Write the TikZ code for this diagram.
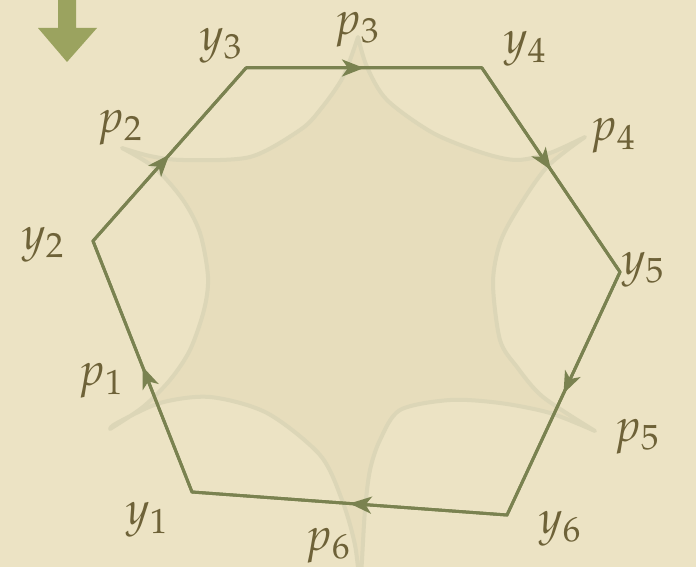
\documentclass[tikz,border=0pt]{standalone}
\usepackage{mathpazo}
\usepackage{tikz}
\usetikzlibrary{arrows.meta, decorations.markings}
\definecolor{parch}{HTML}{ECE3C4}
\definecolor{parchdark}{HTML}{E7DDBC}
\definecolor{ghost}{HTML}{DCD6B7}
\definecolor{olive}{HTML}{7A8250}
\definecolor{olivelight}{HTML}{9BA35F}
\definecolor{inkbrown}{HTML}{6E6238}

\begin{document}
\begin{tikzpicture}[
    x=0.5pt, y=-0.5pt,
    lab/.style={text=inkbrown, font=\fontsize{23}{26}\selectfont, inner sep=0pt},
    side/.style={draw=olive, line width=1.5pt, line join=miter},
    midarrow/.style={side, postaction={decorate},
        decoration={markings, mark=at position 0.5 with {\arrow{Stealth[length=11pt, width=8.5pt, inset=3pt]}}}},
    geo/.style={draw=ghost, fill=parchdark, line width=2pt, line join=round},
    bigarrow/.style={fill=olivelight}
  ]
  \fill[parch] (0,0) rectangle (696,567);
  \useasboundingbox (0,0) rectangle (696,567);

  % arrow in the corner
  \fill[bigarrow] (58,-5) -- (76,-5) -- (76,28) -- (97,28) -- (67,62) -- (38,28) -- (58,28) -- cycle;

  % ideal star (faint geodesics)
  \filldraw[geo]
    plot[smooth] coordinates {(110,429) (143,407) (170,380) (190,350) (204,310) (208,277) (200,233) (183,200) (155,168) (122,148)}
    -- plot[smooth] coordinates {(122,148) (150,156) (183,160) (250,157) (300,130) (320,110) (343,77) (358,37)}
    -- plot[smooth] coordinates {(358,37) (367,67) (387,100) (433,133) (483,153) (517,160) (550,153) (585,137)}
    -- plot[smooth] coordinates {(585,137) (547,167) (517,210) (500,243) (493,283) (500,340) (517,367) (543,397) (595,431)}
    -- plot[smooth] coordinates {(595,431) (550,413) (500,403) (450,400) (400,410) (380,440) (370,470) (365,510) (362,560) (360,590)}
    -- plot[smooth] coordinates {(360,590) (355,545) (342,500) (320,455) (267,413) (210,397) (160,403) (117,423) (110,429)}
    -- cycle;

  % hexagon
  \coordinate (y1) at (192,492);
  \coordinate (y2) at (93,241);
  \coordinate (y3) at (246,68);
  \coordinate (y4) at (482,68);
  \coordinate (y5) at (620,272);
  \coordinate (y6) at (507,515);

  \draw[side] (y1) -- (y2) -- (y3) -- (y4) -- (y5) -- (y6) -- cycle;
  \draw[midarrow] (y1) -- (y2);
  \draw[midarrow] (y2) -- (y3);
  \draw[midarrow] (y3) -- (y4);
  \draw[midarrow] (y4) -- (y5);
  \draw[midarrow] (y5) -- (y6);
  \draw[midarrow] (y6) -- (y1);

  % labels
  \node[lab] (ly1) at (147,520) {$y_1$};
  \node[lab] (ly2) at (43,245) {$y_2$};
  \node[lab] (ly3) at (221,46) {$y_3$};
  \node[lab] (ly4) at (525,49) {$y_4$};
  \node[lab] (ly5) at (643,270) {$y_5$};
  \node[lab] (ly6) at (560,529) {$y_6$};
  \node[lab] (lp1) at (101,381) {$p_1$};
  \node[lab] (lp2) at (120,128) {$p_2$};
  \node[lab] (lp3) at (357,30) {$p_3$};
  \node[lab] (lp4) at (613,136) {$p_4$};
  \node[lab] (lp5) at (637,437) {$p_5$};
  \node[lab] (lp6) at (328,546) {$p_6$};
\end{tikzpicture}
\end{document}
